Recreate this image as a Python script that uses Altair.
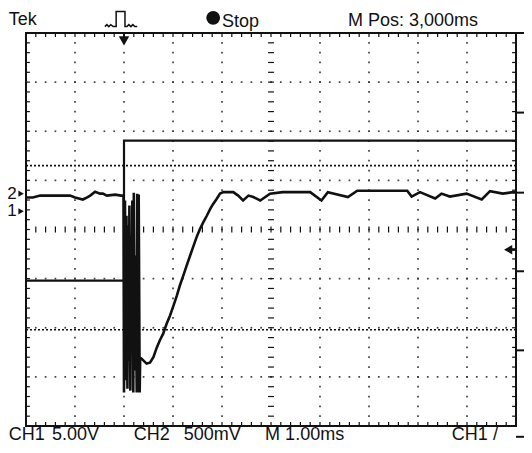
import altair as alt
import pandas as pd
import numpy as np

# ---------------- data (screen units: x 0..10 div, y -4..4 div) ----------------
ch1_x = [0.0, 1.99, 2.0, 2.0, 10.0]
ch1_y = [-1.04, -1.04, -1.04, 1.81, 1.81]

ch2_pre_x = [0.0, 0.14, 0.29, 0.59, 0.90, 1.00, 1.16, 1.24, 1.31, 1.41, 1.51, 1.57, 1.65, 1.82, 1.94, 1.99]
ch2_pre_y = [0.65, 0.65, 0.69, 0.69, 0.69, 0.65, 0.61, 0.65, 0.69, 0.77, 0.73, 0.73, 0.69, 0.71, 0.69, 0.69]

ch2_burst_x = [2.00, 2.02, 2.03, 2.05, 2.07, 2.08, 2.10, 2.11, 2.13, 2.14, 2.16, 2.17, 2.19, 2.20,
               2.22, 2.23, 2.26, 2.27, 2.29, 2.30, 2.32, 2.33]
ch2_burst_y = [-3.32, 0.59, -3.07, 0.28, -3.24, 0.08, -2.67, 0.49, -3.28, -0.12, -2.46, 0.59, -3.32, 0.75,
               -2.87, -0.53, -3.32, 0.73, -3.32, 0.71, -3.32, -2.61]

ch2_rec_x = [2.36, 2.46, 2.53, 2.60, 2.67, 2.73, 2.80, 2.87, 2.94, 3.01, 3.08, 3.14, 3.21, 3.28, 3.35, 3.41,
             3.48, 3.55, 3.62, 3.69, 3.76, 3.82, 3.89, 3.96, 4.03, 4.23, 4.33, 4.43, 4.54, 4.64, 4.78, 4.98,
             5.24, 5.80, 6.03, 6.16, 6.57, 6.76, 7.78, 7.87, 8.04, 8.35, 8.48, 8.65, 8.99, 9.30, 9.47, 9.73,
             9.94, 10.0]
ch2_rec_y = [-2.63, -2.73, -2.71, -2.60, -2.40, -2.26, -2.12, -1.92, -1.75, -1.55, -1.34, -1.14, -0.94, -0.73,
             -0.53, -0.36, -0.16, 0.01, 0.15, 0.28, 0.42, 0.52, 0.62, 0.73, 0.76, 0.76, 0.69, 0.59, 0.69, 0.66,
             0.59, 0.73, 0.76, 0.76, 0.59, 0.76, 0.66, 0.79, 0.79, 0.67, 0.76, 0.63, 0.73, 0.67, 0.73, 0.61,
             0.78, 0.73, 0.76, 0.75]

cursor_y = [1.30, -2.04]
side_tick_y = [4.0, 2.38, 0.75, -0.85, -2.46]

marker_labels = ["2", "1"]
marker_y = [0.73, 0.37]

pulse_x = [1.61, 1.65, 1.69, 1.73, 1.78, 1.84, 1.84, 2.02, 2.02, 2.06, 2.10, 2.14, 2.18, 2.22, 2.27]
pulse_y = [4.13, 4.17, 4.13, 4.17, 4.13, 4.13, 4.44, 4.44, 4.13, 4.13, 4.17, 4.13, 4.17, 4.13, 4.13]

top_labels = ["Tek", "Stop", "M Pos: 3,000ms"]
top_label_x = [-0.35, 4.0, 6.57]
top_label_y = [4.17, 4.13, 4.15]

bottom_labels = ["CH1", "5.00V", "CH2", "500mV", "M 1.00ms", "CH1", "/"]
bottom_label_x = [-0.35, 0.53, 2.20, 3.22, 4.88, 8.69, 9.53]
bottom_label_y = [-4.29] * 7

FONT = "Liberation Sans"
INK = "#111111"

XS = alt.Scale(domain=[0, 10], nice=False, zero=False)
YS = alt.Scale(domain=[-4, 4], nice=False, zero=False)


def X(f="x"):
    return alt.X(f"{f}:Q", scale=XS, axis=None)


def Y(f="y"):
    return alt.Y(f"{f}:Q", scale=YS, axis=None)


# ---------------- graticule ----------------
dots = []
for gx in range(1, 10):
    if gx == 5:
        continue
    for k in range(1, 40):
        dots.append({"x": gx, "y": -4 + 0.2 * k})
for gy in range(-3, 4):
    if gy == 0:
        continue
    for k in range(1, 50):
        dots.append({"x": 0.2 * k, "y": gy})
dots_df = pd.DataFrame(dots)

ticks = []
for k in range(1, 50):
    t = 0.2 * k
    ticks.append({"x": t, "x2": t, "y": 4.0, "y2": 3.92})
    ticks.append({"x": t, "x2": t, "y": -4.0, "y2": -3.92})
    ticks.append({"x": t, "x2": t, "y": -0.06, "y2": 0.06})
for k in range(1, 40):
    t = -4 + 0.2 * k
    ticks.append({"x": 0.0, "x2": 0.08, "y": t, "y2": t})
    ticks.append({"x": 9.92, "x2": 10.0, "y": t, "y2": t})
    ticks.append({"x": 4.94, "x2": 5.06, "y": t, "y2": t})
ticks_df = pd.DataFrame(ticks)

grid_dots = alt.Chart(dots_df).mark_square(size=3, color="#333333", opacity=0.9).encode(x=X(), y=Y())
tick_marks = alt.Chart(ticks_df).mark_rule(color=INK, strokeWidth=1.2).encode(
    x=X(), x2=alt.X2("x2:Q"), y=Y(), y2=alt.Y2("y2:Q"))

frame = alt.Chart(pd.DataFrame({"x": [0], "x2": [10], "y": [-4], "y2": [4]})).mark_rect(
    fill=None, stroke=INK, strokeWidth=2).encode(x=X(), x2=alt.X2("x2:Q"), y=Y(), y2=alt.Y2("y2:Q"))

cursors = alt.Chart(pd.DataFrame({"x": [0, 0], "x2": [10, 10], "y": cursor_y})).mark_rule(
    color=INK, strokeWidth=1.6, strokeDash=[2, 2]).encode(x=X(), x2=alt.X2("x2:Q"), y=Y())

side_ticks = alt.Chart(pd.DataFrame({"x": [10.0] * 5, "x2": [10.2] * 5, "y": side_tick_y})).mark_rule(
    color=INK, strokeWidth=2).encode(x=X(), x2=alt.X2("x2:Q"), y=Y())

# ---------------- traces ----------------
ch1_df = pd.DataFrame({"x": ch1_x, "y": ch1_y, "i": range(len(ch1_x))})
ch1 = alt.Chart(ch1_df).mark_line(color=INK, strokeWidth=2.2).encode(x=X(), y=Y(), order="i:Q")

ch2_x = ch2_pre_x + ch2_burst_x + ch2_rec_x
ch2_y = ch2_pre_y + ch2_burst_y + ch2_rec_y
ch2_df = pd.DataFrame({"x": ch2_x, "y": ch2_y, "i": range(len(ch2_x))})
ch2 = alt.Chart(ch2_df).mark_line(color=INK, strokeWidth=2.6, strokeJoin="miter").encode(
    x=X(), y=Y(), order="i:Q")

# ---------------- markers ----------------
trig_top = alt.Chart(pd.DataFrame({"x": [2.0], "y": [3.84]})).mark_point(
    shape="triangle-down", filled=True, size=110, color=INK, opacity=1).encode(x=X(), y=Y())
trig_stem = alt.Chart(pd.DataFrame({"x": [2.0], "y": [4.0], "y2": [3.88]})).mark_rule(
    color=INK, strokeWidth=2).encode(x=X(), y=Y(), y2=alt.Y2("y2:Q"))

trig_lvl = alt.Chart(pd.DataFrame({"x": [9.84], "y": [-0.41]})).mark_point(
    shape="triangle-left", filled=True, size=90, color=INK, opacity=1).encode(x=X(), y=Y())
trig_lvl_stem = alt.Chart(pd.DataFrame({"x": [9.86], "x2": [10.0], "y": [-0.41]})).mark_rule(
    color=INK, strokeWidth=2.5).encode(x=X(), x2=alt.X2("x2:Q"), y=Y())

mk_df = pd.DataFrame({"x": [-0.10, -0.10], "tx": [-0.19, -0.19], "y": marker_y, "label": marker_labels})
mk_tri = alt.Chart(mk_df).mark_point(shape="triangle-right", filled=True, size=40, color=INK,
                                     opacity=1).encode(x=X(), y=Y())
mk_txt = alt.Chart(mk_df).mark_text(font=FONT, fontSize=17, align="right", baseline="middle",
                                    color=INK).encode(x=X("tx"), y=Y(), text="label:N")

pulse_df = pd.DataFrame({"x": pulse_x, "y": pulse_y, "i": range(len(pulse_x))})
pulse = alt.Chart(pulse_df).mark_line(color=INK, strokeWidth=1.5).encode(x=X(), y=Y(), order="i:Q")

stop_dot = alt.Chart(pd.DataFrame({"x": [3.82], "y": [4.31]})).mark_point(
    shape="circle", filled=True, size=190, color=INK, opacity=1).encode(x=X(), y=Y())

top_df = pd.DataFrame({"x": top_label_x, "y": top_label_y, "label": top_labels})
top_txt = alt.Chart(top_df).mark_text(font=FONT, fontSize=18, align="left", baseline="alphabetic",
                                      color=INK).encode(x=X(), y=Y(), text="label:N")

bot_df = pd.DataFrame({"x": bottom_label_x, "y": bottom_label_y, "label": bottom_labels})
bot_txt = alt.Chart(bot_df).mark_text(font=FONT, fontSize=18, align="left", baseline="alphabetic",
                                      color=INK).encode(x=X(), y=Y(), text="label:N")

dash = alt.Chart(pd.DataFrame({"x": [10.0], "x2": [10.2], "y": [-4.22]})).mark_rule(
    color=INK, strokeWidth=2).encode(x=X(), x2=alt.X2("x2:Q"), y=Y())

chart = alt.layer(
    grid_dots, tick_marks, cursors, frame, side_ticks, ch1, ch2,
    trig_stem, trig_top, trig_lvl_stem, trig_lvl, mk_tri, mk_txt, pulse, stop_dot,
    top_txt, bot_txt, dash,
).properties(
    width=490, height=393,
    autosize=alt.AutoSizeParams(type="none"),
    padding={"left": 18, "top": 25, "right": 8, "bottom": 19},
    background="white",
).configure_view(stroke=None)

chart.save("out.html", embed_options={"renderer": "svg", "actions": False})
